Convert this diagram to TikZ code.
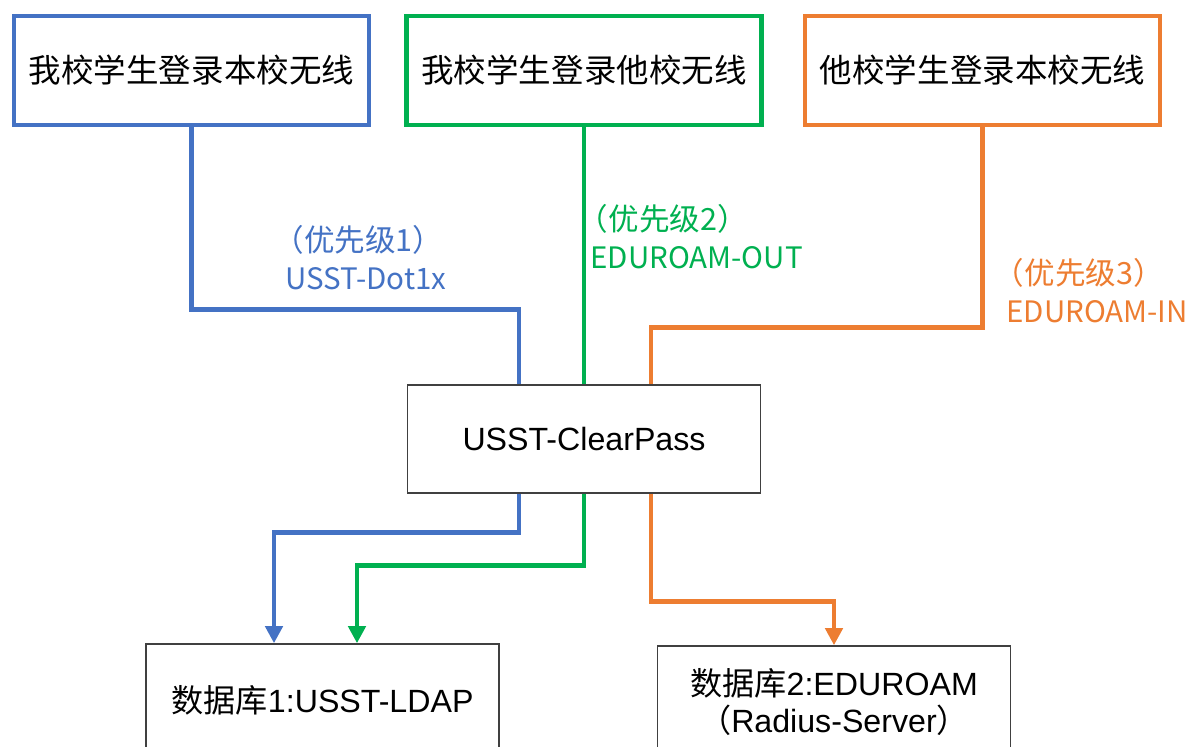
\documentclass[tikz,border=0pt]{standalone}
\usepackage{fontspec}
\setmainfont{Liberation Sans}
\newfontfamily\cjk{Noto Sans CJK SC}
\usepackage{tikz}
\usetikzlibrary{shapes,arrows,arrows.meta,positioning}
\definecolor{ublue}{HTML}{4472C4}
\definecolor{ugreen}{HTML}{00B050}
\definecolor{uorange}{HTML}{ED7D31}
\tikzstyle{userbox} = [draw, line width=2.6pt, fill=white, text centered, minimum width=7.1cm, minimum height=2.18cm, font=\cjk\fontsize{18.5}{22}\selectfont]
\tikzstyle{server} = [draw=black!75, line width=0.9pt, fill=white, text centered, minimum width=7.06cm, minimum height=2.16cm, font=\fontsize{18.3}{22}\selectfont]
\tikzstyle{database} = [draw=black!75, line width=0.9pt, fill=white, align=center, minimum width=7.06cm, minimum height=2.24cm, font=\fontsize{18.3}{21.5}\selectfont]
\tikzstyle{priority} = [align=left, inner sep=0pt, anchor=west, font=\cjk\fontsize{16.8}{21.6}\selectfont]
\tikzstyle{arrow} = [draw, line width=2.8pt, -{Triangle[length=0.34cm,width=0.34cm]}]
\tikzstyle{line} = [draw, line width=2.8pt]
\newcommand{\userbox}[3]{node (u#1) [userbox,draw=#2] {#3}}
\newcommand{\server}[2]{node (s#1) [server] {#2}}
\newcommand{\database}[2]{node (d#1) [database] {#2}}
\newcommand{\priority}[3]{node (t#1) [priority,text=#2] {#3}}
\newcommand{\lvl}[1]{\hspace*{-0.42em}{\fontsize{17.4}{21.6}\selectfont （优先级#1）}}

\begin{document}
\begin{tikzpicture}[x=0.02cm,y=-0.02cm]
\useasboundingbox (0,0) rectangle (1190,747);
\path (191.5,70.5) \userbox{1}{ublue}{我校学生登录本校无线};
\path (u1)+(392.5,0.0) \userbox{2}{ugreen}{我校学生登录他校无线};
\path (u2)+(398.5,0.0) \userbox{3}{uorange}{他校学生登录本校无线};
\path (u2)+(0.0,368.5) \server{1}{USST-ClearPass};
\path (s1)+(-261.5,261.0) \database{1}{{\cjk 数据库}1:USST-LDAP};
\path (s1)+(250.0,263.0) \database{2}{{\cjk 数据库}2:EDUROAM\\{\cjk （}Radius-Server{\cjk ）}};

% user side
\path [line,ublue] (u1.south) -- ++(0,182) -| ([xshift=-1.3cm]s1.north);
\path [line,ugreen] (u2.south) -- (s1.north);
\path [line,uorange] (u3.south) -- ++(0,200) -| ([xshift=1.34cm]s1.north);
\path (u1.south)+(94.0,130.0) \priority{1}{ublue}{\lvl{1}\\USST-Dot1x};
\path (u2.south)+(6.0,109.0) \priority{2}{ugreen}{\lvl{2}\\EDUROAM-OUT};
\path (u3.south)+(23.5,163.0) \priority{3}{uorange}{\lvl{3}\\EDUROAM-IN};

% database side
\path [arrow,ublue] ([xshift=-1.3cm]s1.south) -- ++(0,39) -| ([xshift=-0.97cm]d1.north);
\path [arrow,ugreen] (s1.south) -- ++(0,72) -| ([xshift=0.69cm]d1.north);
\path [arrow,uorange] ([xshift=1.34cm]s1.south) -- ++(0,108) -| (d2.north);
\end{tikzpicture}
\end{document}
